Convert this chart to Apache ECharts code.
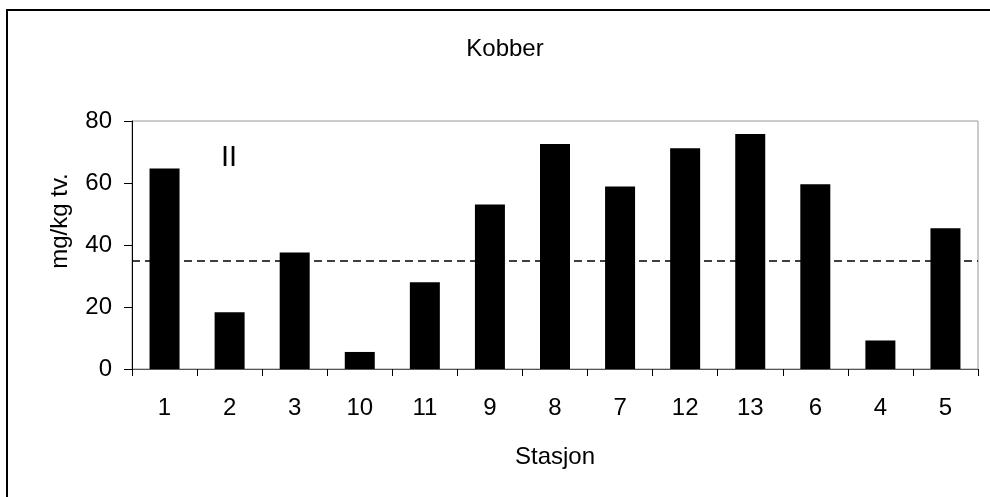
<!DOCTYPE html>
<html>
<head>
<meta charset="utf-8">
<script src="https://cdn.jsdelivr.net/npm/echarts@6/dist/echarts.min.js"></script>
<style>
html,body{margin:0;padding:0;background:#fff;}
#c{width:990px;height:497px;}
</style>
</head>
<body>
<div id="c"></div>
<script>
const stations = ['1','2','3','10','11','9','8','7','12','13','6','4','5'];
const copper = [64.7, 18.3, 37.6, 5.5, 28, 53.1, 72.6, 58.9, 71.2, 75.8, 59.6, 9.2, 45.4];
const classLimit = 35;
const yTicks = [0, 20, 40, 60, 80];

const FONT = 'Liberation Sans, Arial, sans-serif';
const chart = echarts.init(document.getElementById('c'), null, {renderer:'canvas'});
chart.setOption({
  animation: false,
  backgroundColor: '#fff',
  graphic: [
    {type:'rect', shape:{x:7, y:10, width:1000, height:600}, style:{fill:'none', stroke:'#000', lineWidth:2}, z:-1},
    {type:'text', x: 505, y: 49, style:{text:'Kobber', font:'24px Liberation Sans, Arial, sans-serif', fill:'#000', align:'center', verticalAlign:'middle'}},
    {type:'text', x: 60, y: 221, rotation: Math.PI/2, style:{text:'mg/kg tv.', font:'24px Liberation Sans, Arial, sans-serif', fill:'#000', align:'center', verticalAlign:'middle'}},
    {type:'text', x: 221, y: 158, style:{text:'II', font:'29px Liberation Sans, Arial, sans-serif', fill:'#000', align:'left', verticalAlign:'middle'}}
  ],
  grid: {left:132, right:12, top:121, bottom:128, show:true, borderColor:'#999', borderWidth:1, backgroundColor:'transparent'},
  xAxis: {
    type:'category', data: stations,
    name:'Stasjon', nameLocation:'middle', nameGap: 76,
    nameTextStyle:{fontFamily:FONT, fontSize:24, color:'#000', verticalAlign:'top'},
    axisLine:{lineStyle:{color:'#555', width:1}},
    axisTick:{show:true, length:7, lineStyle:{color:'#000'}},
    axisLabel:{fontFamily:FONT, fontSize:24, color:'#000', margin:27},
    splitLine:{show:false}
  },
  yAxis: {
    type:'value', min:0, max: yTicks[yTicks.length-1], interval: yTicks[1]-yTicks[0],
    axisLine:{show:true, lineStyle:{color:'#000', width:1}},
    axisTick:{show:true, length:8, lineStyle:{color:'#000'}},
    axisLabel:{fontFamily:FONT, fontSize:24, color:'#000', margin:20},
    splitLine:{show:false}
  },
  series: [{
    type:'bar', data: copper, barWidth: 30,
    itemStyle:{color:'#000'},
    markLine:{
      silent:true, symbol:['none','none'], label:{show:false},
      lineStyle:{color:'#000', type:[8,5], width:1.5},
      data:[{yAxis: classLimit}]
    }
  }]
});
</script>
</body>
</html>
